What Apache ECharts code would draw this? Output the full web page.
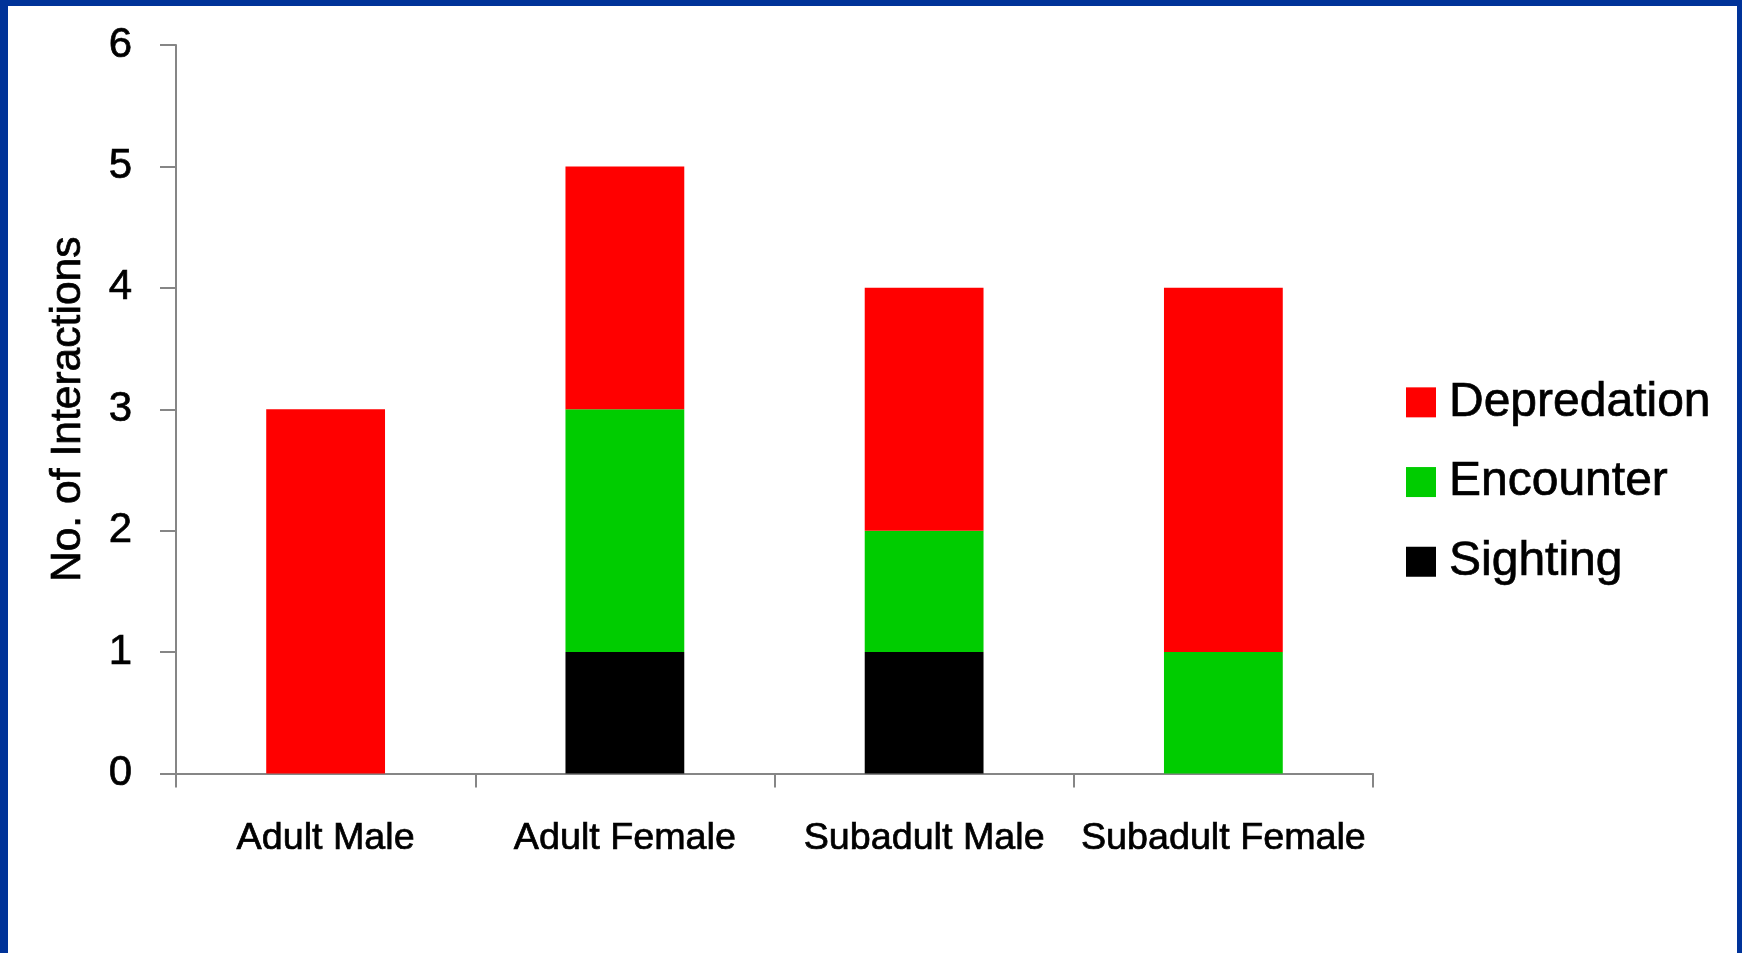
<!DOCTYPE html>
<html>
<head>
<meta charset="utf-8">
<script src="https://cdn.jsdelivr.net/npm/echarts@6/dist/echarts.min.js"></script>
<style>
html,body{margin:0;padding:0;background:#fff;}
#c{width:1742px;height:953px;}
</style>
</head>
<body>
<div id="c"></div>
<script>
const categories = ['Adult Male', 'Adult Female', 'Subadult Male', 'Subadult Female'];
const sighting = [0, 1, 1, 0];
const encounter = [0, 2, 1, 1];
const depredation = [3, 2, 2, 3];
const yTicks = [0, 1, 2, 3, 4, 5, 6];

const FONT = '"Liberation Sans", Arial, sans-serif';
const AXIS = '#868686';
const BOLDEN = {textBorderColor: '#000', textBorderWidth: 0.7};
const chart = echarts.init(document.getElementById('c'), null, {renderer: 'canvas'});
const barW = '39.7%';
chart.setOption({
  backgroundColor: '#ffffff',
  animation: false,
  textStyle: {fontFamily: FONT},
  graphic: [
    {type: 'rect', shape: {x: 0, y: 0, width: 1742, height: 6}, style: {fill: '#003399'}},
    {type: 'rect', shape: {x: 0, y: 0, width: 8, height: 953}, style: {fill: '#003399'}},
    {type: 'rect', shape: {x: 1737, y: 0, width: 5, height: 953}, style: {fill: '#003399'}}
  ],
  grid: {left: 176, right: 369, top: 45, bottom: 179.5, containLabel: false},
  legend: {
    orient: 'vertical',
    left: 1406,
    top: 378,
    padding: 0,
    itemWidth: 30,
    itemHeight: 30,
    itemGap: 31,
    icon: 'rect',
    data: ['Depredation', 'Encounter', 'Sighting'],
    textStyle: Object.assign({fontSize: 48, color: '#000', fontFamily: FONT, padding: [0, 0, 0, 8], lineHeight: 48}, BOLDEN)
  },
  xAxis: {
    type: 'category',
    data: categories,
    axisLine: {lineStyle: {color: AXIS, width: 2}},
    axisTick: {show: true, length: 14, lineStyle: {color: AXIS, width: 2}},
    axisLabel: Object.assign({fontSize: 37.7, color: '#000', margin: 46, fontFamily: FONT, interval: 0}, BOLDEN)
  },
  yAxis: {
    type: 'value',
    min: 0, max: 6, interval: 1,
    name: 'No. of Interactions',
    nameLocation: 'middle',
    nameRotate: 90,
    nameGap: 86,
    nameTextStyle: Object.assign({fontSize: 42.6, color: '#000', fontFamily: FONT}, BOLDEN),
    axisLine: {show: true, lineStyle: {color: AXIS, width: 2}},
    axisTick: {show: true, length: 16, lineStyle: {color: AXIS, width: 2}},
    splitLine: {show: false},
    axisLabel: Object.assign({fontSize: 42, color: '#000', margin: 44, fontFamily: FONT,
      formatter: v => yTicks.includes(v) ? String(v) : ''}, BOLDEN)
  },
  series: [
    {name: 'Sighting', type: 'bar', stack: 'a', data: sighting, barWidth: barW, itemStyle: {color: '#000000'}},
    {name: 'Encounter', type: 'bar', stack: 'a', data: encounter, barWidth: barW, itemStyle: {color: '#00CC00'}},
    {name: 'Depredation', type: 'bar', stack: 'a', data: depredation, barWidth: barW, itemStyle: {color: '#FF0000'}}
  ]
});
</script>
</body>
</html>
